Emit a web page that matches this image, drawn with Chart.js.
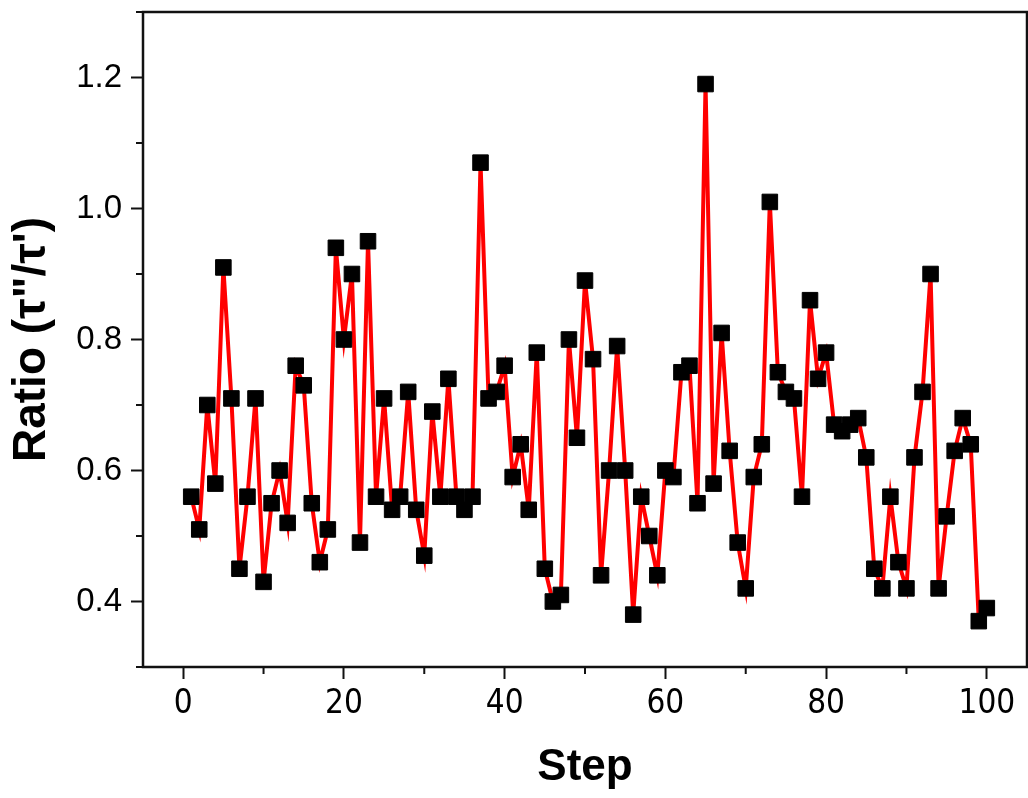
<!DOCTYPE html>
<html>
<head>
<meta charset="utf-8">
<script src="https://cdn.jsdelivr.net/npm/chart.js@4.4.1/dist/chart.umd.min.js"></script>
<style>
  html, body { margin: 0; padding: 0; background: #fff; }
  canvas { display: block; }
</style>
</head>
<body>
<canvas id="myChart" width="1028" height="798"></canvas>
<script>
const steps = [
    1, 2, 3, 4, 5, 6, 7, 8, 9, 10,
    11, 12, 13, 14, 15, 16, 17, 18, 19, 20,
    21, 22, 23, 24, 25, 26, 27, 28, 29, 30,
    31, 32, 33, 34, 35, 36, 37, 38, 39, 40,
    41, 42, 43, 44, 45, 46, 47, 48, 49, 50,
    51, 52, 53, 54, 55, 56, 57, 58, 59, 60,
    61, 62, 63, 64, 65, 66, 67, 68, 69, 70,
    71, 72, 73, 74, 75, 76, 77, 78, 79, 80,
    81, 82, 83, 84, 85, 86, 87, 88, 89, 90,
    91, 92, 93, 94, 95, 96, 97, 98, 99, 100
];
const ratio = [
    0.56, 0.51, 0.70, 0.58, 0.91, 0.71, 0.45, 0.56, 0.71, 0.43,
    0.55, 0.60, 0.52, 0.76, 0.73, 0.55, 0.46, 0.51, 0.94, 0.80,
    0.90, 0.49, 0.95, 0.56, 0.71, 0.54, 0.56, 0.72, 0.54, 0.47,
    0.69, 0.56, 0.74, 0.56, 0.54, 0.56, 1.07, 0.71, 0.72, 0.76,
    0.59, 0.64, 0.54, 0.78, 0.45, 0.40, 0.41, 0.80, 0.65, 0.89,
    0.77, 0.44, 0.60, 0.79, 0.60, 0.38, 0.56, 0.50, 0.44, 0.60,
    0.59, 0.75, 0.76, 0.55, 1.19, 0.58, 0.81, 0.63, 0.49, 0.42,
    0.59, 0.64, 1.01, 0.75, 0.72, 0.71, 0.56, 0.86, 0.74, 0.78,
    0.67, 0.66, 0.67, 0.68, 0.62, 0.45, 0.42, 0.56, 0.46, 0.42,
    0.62, 0.72, 0.90, 0.42, 0.53, 0.63, 0.68, 0.64, 0.37, 0.39
];
const xMajorTicks = [0, 20, 40, 60, 80, 100];
const xMinorTicks = [10, 30, 50, 70, 90];
const yMajorTicks = [0.4, 0.6, 0.8, 1.0, 1.2];
const yMinorTicks = [0.3, 0.5, 0.7, 0.9, 1.1, 1.3];

// frame on all four sides + short minor ticks
const framePlugin = {
    id: 'frame',
    afterDraw(chart) {
        const ctx = chart.ctx;
        const a = chart.chartArea;
        ctx.save();
        ctx.strokeStyle = '#111';
        ctx.lineWidth = 2.5;
        ctx.strokeRect(a.left, a.top, a.right - a.left, a.bottom - a.top);
        ctx.lineWidth = 2;
        ctx.beginPath();
        xMinorTicks.forEach((v) => {
            const px = chart.scales.x.getPixelForValue(v);
            ctx.moveTo(px, a.bottom);
            ctx.lineTo(px, a.bottom + 7);
        });
        yMinorTicks.forEach((v) => {
            const py = chart.scales.y.getPixelForValue(v);
            ctx.moveTo(a.left, py);
            ctx.lineTo(a.left - 7, py);
        });
        ctx.stroke();
        ctx.restore();
    },
};

const ctx = document.getElementById('myChart').getContext('2d');
const chart = new Chart(ctx, {
    type: 'line',
    data: {
        datasets: [
            {
                data: steps.map((s, i) => ({ x: s, y: ratio[i] })),
                borderColor: '#ff0000',
                borderWidth: 4,
                tension: 0,
                pointStyle: 'rect',
                pointRadius: 11,
                pointBackgroundColor: '#000',
                pointBorderColor: '#000',
                pointBorderWidth: 1,
            },
        ],
    },
    options: {
        responsive: false,
        animation: false,
        layout: { padding: { top: 12, right: 1, left: 0, bottom: 0 } },
        plugins: {
            legend: { display: false },
            tooltip: { enabled: false },
        },
        scales: {
            x: {
                type: 'linear',
                min: -5,
                max: 105,
                afterBuildTicks: (scale) => {
                    scale.ticks = xMajorTicks.map((v) => ({ value: v }));
                },
                afterFit: (scale) => {
                    scale.height = 131;
                    scale.paddingLeft = 0;
                    scale.paddingRight = 0;
                },
                border: { display: false },
                grid: {
                    drawOnChartArea: false,
                    drawTicks: true,
                    tickLength: 12,
                    tickWidth: 2,
                    tickColor: '#111',
                },
                ticks: {
                    padding: 6,
                    color: '#000',
                    maxRotation: 0,
                    autoSkip: false,
                    font: { family: "'Liberation Sans Narrow', 'Arial Narrow', 'DejaVu Sans Condensed', 'Roboto Condensed', 'Liberation Sans', Arial", size: 33 },
                    callback: (v) => String(v),
                },
                title: {
                    display: true,
                    text: 'Step',
                    color: '#000',
                    padding: { top: 0, bottom: 4 },
                    font: { family: "'Liberation Sans', Arial", size: 44, weight: 'bold' },
                },
            },
            y: {
                type: 'linear',
                min: 0.3,
                max: 1.3,
                afterBuildTicks: (scale) => {
                    scale.ticks = yMajorTicks.map((v) => ({ value: v }));
                },
                afterFit: (scale) => {
                    scale.width = 143;
                    scale.paddingTop = 0;
                    scale.paddingBottom = 0;
                },
                border: { display: false },
                grid: {
                    drawOnChartArea: false,
                    drawTicks: true,
                    tickLength: 12,
                    tickWidth: 2,
                    tickColor: '#111',
                },
                ticks: {
                    padding: 9,
                    color: '#000',
                    autoSkip: false,
                    font: { family: "'Liberation Sans', Arial", size: 33 },
                    callback: (v) => v.toFixed(1),
                },
                title: {
                    display: true,
                    text: 'Ratio (\u03C4"/\u03C4\')',
                    color: '#000',
                    padding: { top: 5, bottom: 0 },
                    font: { family: "'Liberation Sans', Arial", size: 46, weight: 'bold' },
                },
            },
        },
    },
    plugins: [framePlugin],
});

// the frame runs to the right edge of the picture, so don't reserve room for marker overflow
chart.getDatasetMeta(0).controller.getMaxOverflow = () => 0;
chart.update();
</script>
</body>
</html>
